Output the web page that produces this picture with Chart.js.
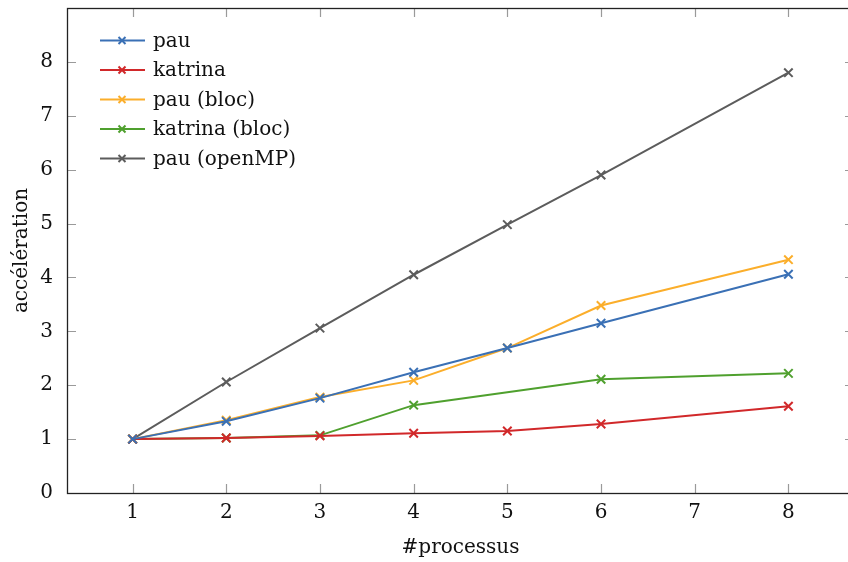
<!DOCTYPE html>
<html>
<head>
<meta charset="utf-8">
<script src="https://cdn.jsdelivr.net/npm/chart.js@4/dist/chart.umd.min.js"></script>
<style>
  html, body { margin: 0; padding: 0; background: #fff; overflow: hidden; }
  .wrap { position: relative; width: 862px; height: 562px; }
  #myChart { display: block; width: 862px; height: 562px; }
</style>
</head>
<body>
<div class="wrap"><canvas id="myChart" width="862" height="562"></canvas></div>
<script>
// data
const procs = [1, 2, 3, 4, 5, 6, 8];
const procsKatrinaBloc = [1, 2, 3, 4, 6, 8];
const pau = [1, 1.33, 1.76, 2.24, 2.69, 3.15, 4.06];
const katrina = [1, 1.02, 1.06, 1.11, 1.15, 1.28, 1.61];
const pauBloc = [1, 1.35, 1.78, 2.09, 2.69, 3.48, 4.33];
const katrinaBloc = [1, 1.02, 1.07, 1.63, 2.11, 2.22];
const pauOpenMP = [1, 2.06, 3.06, 4.05, 4.98, 5.9, 7.8];
const xTicks = [1, 2, 3, 4, 5, 6, 7, 8];
const yTicks = [0, 1, 2, 3, 4, 5, 6, 7, 8];

const FONT = 'DejaVu Serif';

function points(xs, ys){
  return xs.map(function(x, i){ return {x: x, y: ys[i]}; });
}

function serie(label, color, xs, ys){
  return {
    label: label,
    data: points(xs, ys),
    borderColor: color,
    backgroundColor: color,
    borderWidth: 2,
    pointStyle: 'crossRot',
    pointRadius: 6,
    pointBorderWidth: 2,
    tension: 0,
  };
}

// frame + inward ticks on all four sides, like pgfplots
const framePlugin = {
  id: 'frame',
  afterDatasetsDraw: function(chart){
    const ctx = chart.ctx;
    const a = chart.chartArea;
    const xs = chart.scales.x;
    const ys = chart.scales.y;
    const len = 9;
    ctx.save();
    ctx.strokeStyle = '#9a9a9a';
    ctx.lineWidth = 1.2;
    ctx.beginPath();
    for(let v of xTicks){
      const px = Math.round(xs.getPixelForValue(v)) + 0.5;
      ctx.moveTo(px, a.bottom); ctx.lineTo(px, a.bottom - len);
      ctx.moveTo(px, a.top); ctx.lineTo(px, a.top + len);
    }
    for(let v of yTicks){
      const py = Math.round(ys.getPixelForValue(v)) + 0.5;
      ctx.moveTo(a.left, py); ctx.lineTo(a.left + len, py);
      ctx.moveTo(a.right, py); ctx.lineTo(a.right - len, py);
    }
    ctx.stroke();
    ctx.strokeStyle = '#222';
    ctx.lineWidth = 1.3;
    ctx.strokeRect(Math.round(a.left) + 0.5, Math.round(a.top) + 0.5,
      Math.round(a.right - a.left), Math.round(a.bottom - a.top));
    ctx.restore();
  }
};

// legend in the upper left corner: line + marker + label
const legendPlugin = {
  id: 'innerLegend',
  afterDraw: function(chart){
    const ctx = chart.ctx;
    const a = chart.chartArea;
    ctx.save();
    ctx.font = '20px "' + FONT + '"';
    ctx.textBaseline = 'middle';
    ctx.textAlign = 'left';
    chart.data.datasets.forEach(function(ds, i){
      const y = a.top + 32.5 + i * 29.5;
      const x0 = a.left + 33;
      ctx.strokeStyle = ds.borderColor;
      ctx.lineWidth = 2;
      ctx.beginPath();
      ctx.moveTo(x0, y); ctx.lineTo(x0 + 45, y);
      ctx.stroke();
      const cx = x0 + 22, r = 3.5;
      ctx.beginPath();
      ctx.moveTo(cx - r, y - r); ctx.lineTo(cx + r, y + r);
      ctx.moveTo(cx - r, y + r); ctx.lineTo(cx + r, y - r);
      ctx.stroke();
      ctx.fillStyle = '#111';
      ctx.fillText(ds.label, x0 + 53, y + 1);
    });
    ctx.restore();
  }
};

const app = {
  initChart: function(){
    const thisApp = this;
    thisApp.ctx = document.getElementById('myChart').getContext('2d');
    // eslint-disable-next-line no-undef
    thisApp.chart = new Chart(thisApp.ctx, {
      type: 'line',
      data: {
        datasets: [
          serie('pau', '#3a70b5', procs, pau),
          serie('katrina', '#d1282a', procs, katrina),
          serie('pau (bloc)', '#fbae2b', procs, pauBloc),
          serie('katrina (bloc)', '#4fa02e', procsKatrinaBloc, katrinaBloc),
          serie('pau (openMP)', '#5c5c5c', procs, pauOpenMP),
        ]
      },
      options: {
        responsive: false,
        animation: false,
        devicePixelRatio: 1,
        layout: { padding: { top: 7, right: 0, left: 0, bottom: 0 } },
        plugins: {
          legend: { display: false },
          tooltip: { enabled: false },
        },
        scales: {
          x: {
            type: 'linear',
            min: 0.3,
            max: 8.7,
            afterBuildTicks: function(scale){
              scale.ticks = xTicks.map(function(v){ return {value: v}; });
            },
            afterFit: function(scale){
              scale.height = 69;
              scale.paddingLeft = 0;
              scale.paddingRight = 0;
            },
            grid: { display: false, drawTicks: false },
            border: { display: false },
            ticks: {
              color: '#111',
              padding: 8,
              maxRotation: 0,
              font: { family: FONT, size: 20 },
            },
            title: {
              display: true,
              text: '#processus',
              color: '#111',
              padding: { top: 0, bottom: 2 },
              font: { family: FONT, size: 20 },
            },
          },
          y: {
            min: 0,
            max: 9,
            afterBuildTicks: function(scale){
              scale.ticks = yTicks.map(function(v){ return {value: v}; });
            },
            afterFit: function(scale){
              scale.width = 67;
              scale.paddingTop = 0;
              scale.paddingBottom = 0;
            },
            grid: { display: false, drawTicks: false },
            border: { display: false },
            ticks: {
              color: '#111',
              padding: 14,
              font: { family: FONT, size: 20 },
            },
            title: {
              display: true,
              text: 'accélération',
              color: '#111',
              padding: { top: 10, bottom: 0 },
              font: { family: FONT, size: 20 },
            },
          },
        },
      },
      plugins: [framePlugin, legendPlugin],
    });
  },

  init: function(){
    this.initChart();
  }
};

app.init();
</script>
</body>
</html>
